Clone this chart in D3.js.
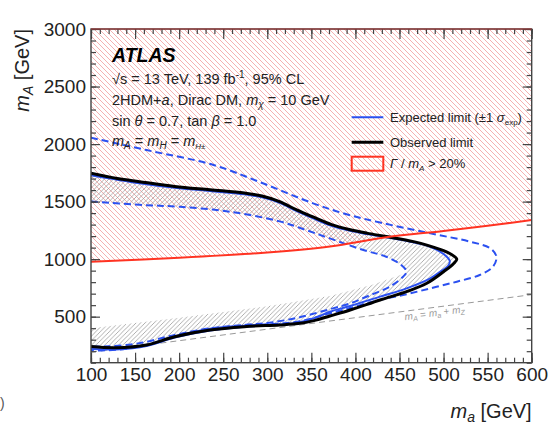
<!DOCTYPE html>
<html><head><meta charset="utf-8">
<script src="https://cdn.jsdelivr.net/npm/d3@7"></script>
<style>
body{margin:0;background:#fff}
svg{display:block}
text{font-family:"Liberation Sans",Arial,Helvetica,sans-serif}
</style>
</head><body>
<svg id="c" width="548" height="448"></svg>
<script>
// ---------- data (m_a, m_A) in GeV ----------
const xMajor=[100,150,200,250,300,350,400,450,500,550,600];
const yMajor=[500,1000,1500,2000,2500,3000];
const xMinor=d3.range(100,601,10);
const yMinor=d3.range(100,3001,100);

const observed=[[100,1746],[130,1700],[155,1673],[195,1632],[235,1603],[274,1575],[294,1548],[314,1500],[334,1425],[354,1360],[373,1300],[393,1258],[413,1226],[435,1196],[466,1152],[496,1085],[508,1045],[515,999],[511,958],[500,891],[481,790],[458,717],[428,645],[394,558],[371,506],[354,468],[335,440],[314,428],[274,413],[235,384],[195,326],[163,254],[128,230],[100,240]];
const expected=[[100,1730],[155,1660],[195,1620],[235,1592],[274,1563],[294,1537],[314,1490],[334,1415],[354,1348],[373,1290],[393,1248],[413,1218],[435,1190],[460,1155],[485,1108],[500,1045],[507,985],[505,940],[496,890],[485,833],[458,746],[428,674],[394,593],[371,543],[354,490],[335,450],[314,432],[274,412],[235,380],[195,318],[163,245],[128,215],[100,218]];
const expPlus=[[100,2055],[163,1948],[239,1818],[295,1659],[352,1485],[390,1390],[428,1318],[485,1224],[530,1152],[553,1094],[560,1021],[556,934],[541,862],[515,804],[485,746],[454,688],[424,640],[394,575],[371,530],[354,492],[334,455],[314,440],[274,422],[235,395],[195,330],[163,255],[140,222],[120,208],[100,208]];
const expMinus=[[100,1500],[155,1472],[201,1455],[258,1412],[314,1328],[345,1250],[371,1180],[409,1079],[435,1021],[452,949],[458,891],[454,847],[439,760],[417,688],[394,616],[371,565],[334,490],[300,445],[274,428],[235,399],[195,341],[155,270],[120,242],[100,240]];
const hatchEdge=[[100,240],[100,400],[200,490],[300,590],[371,680],[420,780],[454,870]];
const widthLimit=[[100,978],[200,1012],[300,1058],[371,1110],[435,1190],[500,1245],[550,1290],[600,1340]];
const kinLine=[[100,191.2],[600,691.2]];

// ---------- setup ----------
const svg=d3.select("#c");
const L=91,R=531.7,T=29,B=362.7;
const x=d3.scaleLinear([100,600],[L,R]);
const y=d3.scaleLinear([100,3000],[B,T]);

const defs=svg.append("defs");
defs.append("clipPath").attr("id","clip").append("rect").attr("x",L).attr("y",T).attr("width",R-L).attr("height",B-T);
const pr=defs.append("pattern").attr("id","redH").attr("patternUnits","userSpaceOnUse").attr("width",5).attr("height",5);
pr.append("path").attr("d","M-1,-1 L6,6 M-1,4 L1,6 M4,-1 L6,1").attr("stroke","#f4a8a8").attr("stroke-width",0.9);
const pg=defs.append("pattern").attr("id","grayH").attr("patternUnits","userSpaceOnUse").attr("width",4.5).attr("height",4.5);
pg.append("path").attr("d","M-1,5.5 L5.5,-1 M-1,1 L1,-1 M3.5,5.5 L5.5,3.5").attr("stroke","#9a9a9a").attr("stroke-width",0.8);

const g=svg.append("g").attr("clip-path","url(#clip)");
const line=d3.line().x(d=>x(d[0])).y(d=>y(d[1])).curve(d3.curveCatmullRom.alpha(0.5));
const lin=d3.line().x(d=>x(d[0])).y(d=>y(d[1]));

// red hatched region above width limit
g.append("path").datum(widthLimit)
 .attr("d",d3.area().x(d=>x(d[0])).y0(y(3000)).y1(d=>y(d[1])).curve(d3.curveCatmullRom.alpha(0.5)))
 .attr("fill","url(#redH)");

// gray hatch region
const poly=observed.concat(hatchEdge.slice(1)).concat(expMinus.slice(0,11).reverse());
g.append("path").datum(poly).attr("d",lin).attr("fill","url(#grayH)");

// kinematic line
g.append("path").datum(kinLine).attr("d",lin).attr("fill","none").attr("stroke","#999").attr("stroke-width",1).attr("stroke-dasharray","6,4");

// expected +-1 sigma
[expPlus,expMinus].forEach(d=>{
  g.append("path").datum(d).attr("d",line).attr("fill","none").attr("stroke","#2b50f0").attr("stroke-width",2).attr("stroke-dasharray","7,4");
});
g.append("path").datum(expected).attr("d",line).attr("fill","none").attr("stroke","#2b50f0").attr("stroke-width",2);
g.append("path").datum(observed).attr("d",line).attr("fill","none").attr("stroke","#000").attr("stroke-width",3);
g.append("path").datum(widthLimit).attr("d",line).attr("fill","none").attr("stroke","#ff3322").attr("stroke-width",2);

// axes
const fs="19px";
function ax(gen,tr,vals,size,labels){
  const a=svg.append("g").attr("transform",tr).call(gen.tickValues(vals).tickSize(size).tickPadding(5).tickFormat(labels?d3.format("d"):""));
  a.select(".domain").remove();
  a.selectAll(".tick line").attr("stroke","#444").attr("stroke-width",1.2);
  a.selectAll("text").attr("fill","#222").style("font-size",fs).style("font-family","'Liberation Sans',Arial,sans-serif");
  return a;
}
ax(d3.axisBottom(x),`translate(0,${B})`,xMinor,-5,false);
ax(d3.axisBottom(x),`translate(0,${B})`,xMajor,-10,true);
ax(d3.axisTop(x),`translate(0,${T})`,xMinor,-5,false);
ax(d3.axisTop(x),`translate(0,${T})`,xMajor,-10,false);
ax(d3.axisLeft(y),`translate(${L},0)`,yMinor,-5,false);
ax(d3.axisLeft(y),`translate(${L},0)`,yMajor,-9,true);
ax(d3.axisRight(y),`translate(${R},0)`,yMinor,-5,false);
ax(d3.axisRight(y),`translate(${R},0)`,yMajor,-9,false);

// frame
svg.append("rect").attr("x",L).attr("y",T).attr("width",R-L).attr("height",B-T).attr("fill","none").attr("stroke","#444").attr("stroke-width",1.4);
svg.append("line").attr("x1",L).attr("x2",R).attr("y1",T).attr("y2",T).attr("stroke","#a33").attr("stroke-width",1.2);

// axis titles
const xt=svg.append("text").attr("x",R).attr("y",418).attr("text-anchor","end").style("font-size","20px").attr("fill","#222");
xt.append("tspan").text("m").style("font-style","italic");
xt.append("tspan").text("a").style("font-style","italic").style("font-size","14px").attr("dy",4);
xt.append("tspan").text(" [GeV]").attr("dy",-4);
const yt=svg.append("text").attr("transform",`translate(29,${T}) rotate(-90)`).attr("text-anchor","end").style("font-size","20px").attr("fill","#222");
yt.append("tspan").text("m").style("font-style","italic");
yt.append("tspan").text("A").style("font-style","italic").style("font-size","14px").attr("dy",4);
yt.append("tspan").text(" [GeV]").attr("dy",-4);

// labels
svg.append("text").attr("x",112).attr("y",62).text("ATLAS").style("font-size","19.5px").style("font-weight","bold").style("font-style","italic").attr("fill","#000");
const t1=svg.append("text").attr("x",112).attr("y",84).style("font-size","14.5px").attr("fill","#222");
t1.append("tspan").text("√s = 13 TeV, 139 fb");
t1.append("tspan").text("-1").style("font-size","10px").attr("dy",-6);
t1.append("tspan").text(", 95% CL").attr("dy",6);
const t2=svg.append("text").attr("x",112).attr("y",105).style("font-size","14.5px").attr("fill","#222");
t2.append("tspan").text("2HDM+");
t2.append("tspan").text("a").style("font-style","italic");
t2.append("tspan").text(", Dirac DM, ");
t2.append("tspan").text("m").style("font-style","italic");
t2.append("tspan").text("χ").style("font-style","italic").style("font-size","10px").attr("dy",3);
t2.append("tspan").text(" = 10 GeV").attr("dy",-3);
const t3=svg.append("text").attr("x",112).attr("y",126).style("font-size","14.5px").attr("fill","#222");
t3.append("tspan").text("sin ");
t3.append("tspan").text("θ").style("font-style","italic");
t3.append("tspan").text(" = 0.7, tan ");
t3.append("tspan").text("β").style("font-style","italic");
t3.append("tspan").text(" = 1.0");
const t4=svg.append("text").attr("x",112).attr("y",146).style("font-size","14.5px").attr("fill","#222");
t4.append("tspan").text("m").style("font-style","italic");
t4.append("tspan").text("A").style("font-style","italic").style("font-size","10px").attr("dy",3);
t4.append("tspan").text(" = ").attr("dy",-3);
t4.append("tspan").text("m").style("font-style","italic");
t4.append("tspan").text("H").style("font-style","italic").style("font-size","10px").attr("dy",3);
t4.append("tspan").text(" = ").attr("dy",-3);
t4.append("tspan").text("m").style("font-style","italic");
t4.append("tspan").text("H±").style("font-style","italic").style("font-size","8px").attr("dy",3);

// kinematic label
const kx=435, ky=y(kinLine[0][1]+(x.invert(kx)-kinLine[0][0]))+9;
const ang=Math.atan2(y(kinLine[1][1])-y(kinLine[0][1]),x(kinLine[1][0])-x(kinLine[0][0]))*180/Math.PI;
const kt=svg.append("text").attr("transform",`translate(${kx},${ky}) rotate(${ang})`).attr("text-anchor","middle").style("font-size","10px").attr("fill","#999");
kt.append("tspan").text("m").style("font-style","italic");
kt.append("tspan").text("A").style("font-style","italic").style("font-size","7px").attr("dy",2);
kt.append("tspan").text(" = ").attr("dy",-2);
kt.append("tspan").text("m").style("font-style","italic");
kt.append("tspan").text("a").style("font-style","italic").style("font-size","7px").attr("dy",2);
kt.append("tspan").text(" + ").attr("dy",-2);
kt.append("tspan").text("m").style("font-style","italic");
kt.append("tspan").text("Z").style("font-style","italic").style("font-size","7px").attr("dy",2);

// legend
const lx1=351.7,lx2=383.3,tx=390;
svg.append("line").attr("x1",lx1).attr("x2",lx2).attr("y1",117.3).attr("y2",117.3).attr("stroke","#2b50f0").attr("stroke-width",2);
svg.append("line").attr("x1",lx1).attr("x2",lx2).attr("y1",142.3).attr("y2",142.3).attr("stroke","#000").attr("stroke-width",3);
svg.append("rect").attr("x",lx1).attr("y",156.7).attr("width",lx2-lx1).attr("height",14).attr("fill","none").attr("stroke","#ff3322").attr("stroke-width",2);
const l1=svg.append("text").attr("x",tx).attr("y",122).style("font-size","13px").attr("fill","#222");
l1.append("tspan").text("Expected limit (±1 ");
l1.append("tspan").text("σ").style("font-style","italic");
l1.append("tspan").text("exp").style("font-size","8px").attr("dy",3);
l1.append("tspan").text(")").attr("dy",-3);
svg.append("text").attr("x",tx).attr("y",147).style("font-size","13px").attr("fill","#222").text("Observed limit");
const l3=svg.append("text").attr("x",tx).attr("y",168).style("font-size","13px").attr("fill","#222");
l3.append("tspan").text("Γ").style("font-style","italic");
l3.append("tspan").text(" / ");
l3.append("tspan").text("m").style("font-style","italic");
l3.append("tspan").text("A").style("font-style","italic").style("font-size","8px").attr("dy",3);
l3.append("tspan").text(" > 20%").attr("dy",-3);

// neighbour glyph at bottom-left edge
svg.append("text").attr("x",0).attr("y",408).style("font-size","14px").attr("fill","#555").text(")");
</script>
</body></html>
